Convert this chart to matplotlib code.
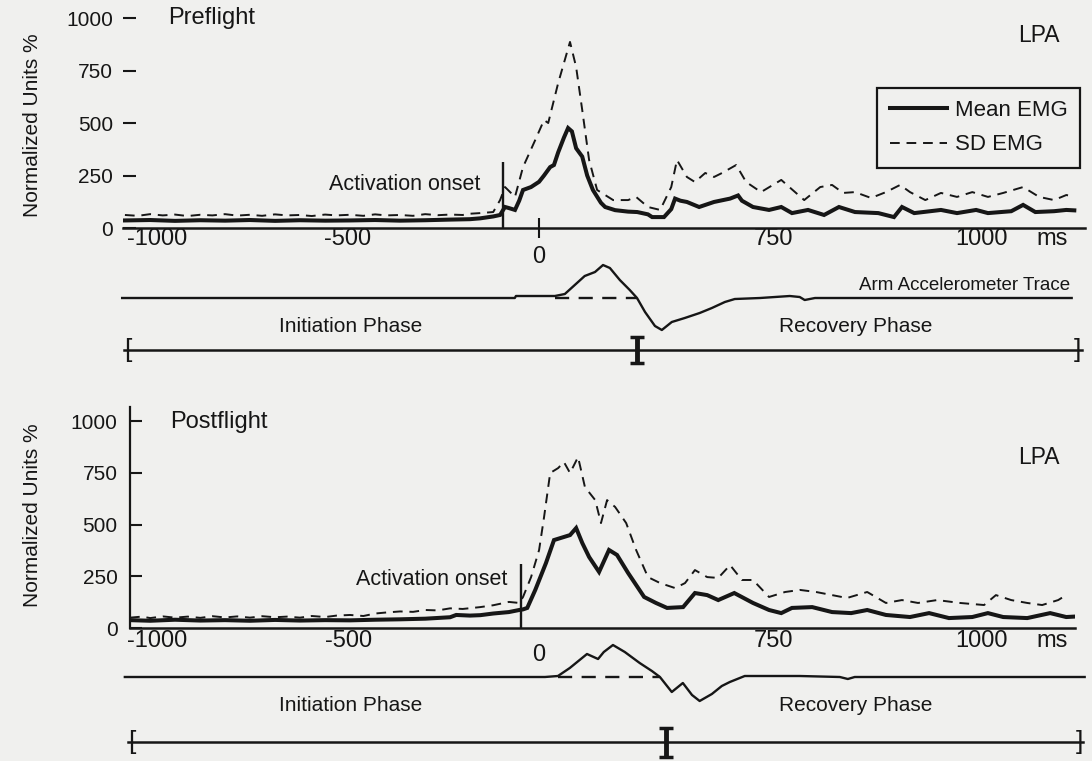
import matplotlib
matplotlib.use("Agg")
import matplotlib.pyplot as plt

plt.rcParams['font.family'] = ['Liberation Sans', 'DejaVu Sans']

# ---------------- data (time in ms along the drawn axis) ----------------
XTICK_POS = [-1000, -500, 613, 1157, 1343]
XTICK_LABELS = ['-1000', '-500', '750', '1000', 'ms']
YTICKS = [0, 250, 500, 750, 1000]
YTICK_LABELS = ['0', '250', '500', '750', '1000']

PRE_ONSET = -94
POST_ONSET = -47
ONSET_HEIGHT = [314, 309]

pre_mean_t = [-1084, -1018, -953, -887, -822, -757, -691, -626, -560, -495, -429, -364, -298, -233,
              -181, -154, -120, -102, -94, -89, -79, -63, -52, -42, -21, 0, 13, 29, 39, 50, 65, 76,
              86, 97, 113, 126, 141, 162, 173, 199, 233, 257, 285, 296, 327, 346, 356, 370, 387, 419,
              458, 500, 521, 531, 560, 602, 634, 662, 704, 746, 785, 827, 888, 929, 950, 982, 1052,
              1094, 1144, 1175, 1236, 1267, 1299, 1348, 1380, 1401]
pre_mean = [36, 38, 34, 37, 35, 38, 34, 37, 35, 36, 38, 35, 37, 40,
            42, 46, 55, 62, 86, 100, 95, 86, 130, 181, 195, 220, 250, 290, 300, 360, 430, 476,
            460, 380, 340, 250, 181, 120, 100, 85, 78, 76, 65, 52, 52, 90, 140, 130, 124, 100,
            124, 140, 155, 130, 100, 86, 100, 71, 86, 62, 100, 76, 71, 52, 100, 71, 86,
            71, 86, 71, 80, 110, 76, 80, 86, 84]

pre_sd_t = [-1084, -1050, -1018, -985, -953, -920, -887, -855, -822, -790, -757, -725, -691, -660,
            -626, -595, -560, -530, -495, -460, -429, -400, -364, -330, -298, -265, -233, -200,
            -181, -154, -120, -102, -89, -63, -42, -10, 13, 24, 50, 81, 97, 113, 131, 152, 194,
            233, 254, 285, 317, 346, 361, 387, 408, 435, 458, 479, 516, 542, 581, 634, 655, 694,
            736, 767, 796, 827, 869, 908, 945, 971, 1011, 1052, 1094, 1134, 1175, 1215, 1267,
            1309, 1348, 1380, 1401]
pre_sd = [62, 58, 66, 60, 64, 57, 63, 60, 66, 59, 63, 58, 65, 60,
          62, 57, 64, 60, 63, 58, 65, 60, 62, 58, 66, 61, 64, 62,
          68, 71, 76, 133, 195, 148, 290, 419, 514, 500, 690, 886, 767, 562, 324, 181, 133,
          133, 148, 100, 86, 195, 324, 243, 219, 262, 243, 262, 300, 219, 171, 229, 195, 133,
          195, 205, 167, 171, 143, 171, 205, 171, 133, 167, 148, 171, 148, 167, 195,
          148, 133, 157, 150]

post_mean_t = [-1071, -1018, -953, -887, -822, -757, -691, -626, -560, -495, -429, -364, -298,
               -233, -217, -181, -154, -120, -79, -52, -42, -31, -10, 18, 39, 81, 97, 113, 131,
               157, 183, 204, 233, 275, 306, 335, 377, 408, 440, 469, 511, 560, 602, 634, 662,
               715, 767, 817, 859, 908, 971, 1021, 1073, 1134, 1175, 1215, 1278, 1338, 1380, 1400]
post_mean = [38, 35, 40, 36, 38, 35, 39, 36, 38, 37, 40, 42, 45,
             52, 63, 60, 62, 70, 77, 87, 90, 97, 184, 314, 425, 449, 483, 411, 343,
             271, 377, 353, 266, 150, 121, 97, 101, 169, 159, 135, 169, 121, 87, 72, 97,
             101, 77, 72, 87, 63, 53, 72, 48, 53, 72, 53, 48, 72, 53, 55]

post_sd_t = [-1071, -1040, -1018, -985, -953, -920, -887, -855, -822, -790, -757, -725, -691,
             -660, -626, -595, -560, -530, -495, -460, -429, -400, -364, -330, -298, -265, -233,
             -200, -154, -120, -79, -52, -42, -21, 0, 13, 29, 50, 65, 81, 102, 120, 147, 162,
             178, 199, 228, 254, 285, 317, 356, 382, 408, 440, 469, 500, 531, 560, 602, 644,
             683, 725, 767, 806, 859, 908, 950, 992, 1042, 1102, 1165, 1196, 1236, 1278, 1317,
             1359, 1380]
post_sd = [50, 55, 48, 56, 50, 55, 49, 57, 51, 56, 50, 57, 52,
           55, 50, 58, 53, 60, 63, 58, 70, 75, 80, 78, 87, 85, 95,
           92, 101, 110, 126, 121, 150, 246, 377, 536, 749, 773, 802, 749, 826, 681, 618, 507,
           618, 585, 507, 377, 246, 217, 193, 217, 280, 246, 242, 304, 232, 232, 150, 174,
           184, 174, 159, 145, 174, 121, 135, 121, 135, 121, 111, 159, 135, 121, 111,
           135, 159]

# arm accelerometer traces (arbitrary units, 0 = resting level)
pre_acc_t = [-1091, -63, -60, 42, 68, 94, 120, 147, 168, 186, 212, 238, 257, 278, 304, 322, 348,
             382, 421, 453, 487, 513, 579, 657, 683, 696, 723, 1395]
pre_acc = [0, 0, 2, 2, 4, 13, 22, 26, 33, 30, 18, 8, 0, -14, -28, -32, -24,
           -20, -15, -10, -4, -1, 0, 2, 1, -2, 0, 0]
post_acc_t = [-1084, 16, 50, 81, 126, 155, 170, 194, 225, 264, 296, 317, 348, 377, 401, 421, 453,
              479, 500, 539, 683, 788, 809, 827, 1429]
post_acc = [0, 0, 1, 9, 23, 18, 25, 32, 25, 14, 6, 0, -15, -6, -18, -24, -17,
            -9, -5, 1, 1, 0, -2, 0, 0]
pre_acc_dash = [42, 257]
post_acc_dash = [50, 317]

# phases: start, split, end
pre_phase = [-1086, 257, 1421]
post_phase = [-1076, 332, 1424]

INK = '#161616'
BG = '#f0f0ee'

fig = plt.figure(figsize=(10.92, 7.61), dpi=100, facecolor=BG)


def emg_panel(rect, xlim, ylim, t_mean, mean, t_sd, sd, onset, onset_h, show_spine,
              zero_tick_visible, ylab_x, ylab_y, title, title_xy, lpa_xy, onset_text_y,
              onset_text_dx, ytick_len, ytick_pad, xlab_pad, zero_pad, legend=False):
    ax = fig.add_axes(rect)
    ax.patch.set_visible(False)
    ax.set_xlim(*xlim)
    ax.set_ylim(*ylim)
    for s in ['top', 'right']:
        ax.spines[s].set_visible(False)
    ax.spines['left'].set_visible(show_spine)
    ax.spines['left'].set_linewidth(1.6)
    ax.spines['bottom'].set_linewidth(1.8)
    ax.spines['left'].set_color(INK)
    ax.spines['bottom'].set_color(INK)
    if show_spine:
        ax.spines['left'].set_bounds(0, ylim[1])

    ax.plot(t_mean, mean, color=INK, lw=2.9, solid_joinstyle='miter', label='Mean EMG')
    ax.plot(t_sd, sd, color=INK, lw=1.4, ls=(0, (5, 3.5)), label='SD EMG')
    ax.vlines(onset, 0, onset_h, color=INK, lw=1.7)
    ax.annotate('Activation onset', xy=(onset, onset_text_y), xytext=(onset_text_dx, 0),
                textcoords='offset points', ha='right', va='center', fontsize=15.5, color=INK)

    ax.set_xticks(XTICK_POS, XTICK_LABELS)
    ax.set_xticks([0], ['0'], minor=True)
    ax.tick_params(axis='x', which='major', length=0, pad=xlab_pad, labelsize=17, labelcolor=INK)
    ax.tick_params(axis='x', which='minor', length=15, width=1.5, direction='inout',
                   pad=zero_pad, labelsize=17, labelcolor=INK,
                   color=INK if zero_tick_visible else (0, 0, 0, 0))
    ax.set_yticks(YTICKS, YTICK_LABELS)
    ax.tick_params(axis='y', direction='in', length=ytick_len, width=1.5, pad=ytick_pad,
                   labelsize=15, labelcolor=INK, color=INK)

    ax.set_ylabel('Normalized Units %', fontsize=15, color=INK)
    ax.yaxis.set_label_coords(ylab_x, ylab_y)
    ax.text(title_xy[0], title_xy[1], title, transform=ax.transAxes, ha='left', va='center',
            fontsize=17, color=INK)
    ax.text(lpa_xy[0], lpa_xy[1], 'LPA', transform=ax.transAxes, ha='right', va='center',
            fontsize=16.5, color=INK)
    if legend:
        leg = ax.legend(loc='upper right', bbox_to_anchor=(0.995, 0.667), fontsize=16,
                        frameon=True, fancybox=False, edgecolor=INK, facecolor=BG, framealpha=1,
                        handlelength=2.6, handletextpad=0.35, labelspacing=0.6, borderpad=0.55,
                        borderaxespad=0)
        leg.get_frame().set_linewidth(1.6)
        for txt in leg.get_texts():
            txt.set_color(INK)
    return ax


def accel_panel(rect, ylim, t_acc, acc, dash, phase, phase_y, split_half, texts_y, show_trace_label):
    ax = fig.add_axes(rect)
    ax.patch.set_visible(False)
    ax.set_xlim(-1149, 1443)
    ax.set_ylim(*ylim)
    ax.axis('off')
    ax.plot(t_acc, acc, color=INK, lw=1.7)
    ax.plot(dash, [0, 0], color=INK, lw=1.7, ls=(0, (6, 4)))
    ax.plot([phase[0], phase[2]], [phase_y, phase_y], color=INK, lw=1.8)
    ax.errorbar([phase[1]], [phase_y], yerr=split_half, fmt='none', ecolor=INK,
                elinewidth=3.5, capsize=5, capthick=2.5)
    ax.text(phase[0], phase_y, '[', ha='left', va='center', fontsize=19, color=INK)
    ax.text(phase[2], phase_y, ']', ha='right', va='center', fontsize=19, color=INK)
    ax.text(-492, texts_y, 'Initiation Phase', ha='center', va='center', fontsize=15, color=INK)
    ax.text(830, texts_y, 'Recovery Phase', ha='center', va='center', fontsize=15, color=INK)
    if show_trace_label:
        ax.text(1392, 13, 'Arm Accelerometer Trace', ha='right', va='center', fontsize=13.5,
                color=INK)
    return ax


emg_panel([0.11264, 0.70039, 0.88095, 0.27595], (-1089, 1429), (0, 1000),
          pre_mean_t, pre_mean, pre_sd_t, pre_sd, PRE_ONSET, ONSET_HEIGHT[0],
          show_spine=False, zero_tick_visible=True, ylab_x=-0.0842, ylab_y=0.49,
          title='Preflight', title_xy=(0.0468, 1.0), lpa_xy=(0.974, 0.919),
          onset_text_y=205, onset_text_dx=-16.5, ytick_len=9.5, ytick_pad=7,
          xlab_pad=0, zero_pad=5.5, legend=True)

emg_panel([0.11905, 0.17477, 0.86538, 0.29041], (-1071, 1403), (0, 1068),
          post_mean_t, post_mean, post_sd_t, post_sd, POST_ONSET, ONSET_HEIGHT[1],
          show_spine=True, zero_tick_visible=False, ylab_x=-0.0931, ylab_y=0.511,
          title='Postflight', title_xy=(0.0423, 0.932), lpa_xy=(0.984, 0.77),
          onset_text_y=232, onset_text_dx=-10, ytick_len=8.5, ytick_pad=9,
          xlab_pad=1.5, zero_pad=4, legend=False)

accel_panel([0.09158, 0.5138, 0.90659, 0.1511], (-72, 43), pre_acc_t, pre_acc, pre_acc_dash,
            pre_phase, -52, 13.5, -28, True)
accel_panel([0.09158, 0.0, 0.90659, 0.16557], (-84, 42), post_acc_t, post_acc, post_acc_dash,
            post_phase, -65, 14.5, -28, False)

fig.savefig('out.png', dpi=100, facecolor=BG)
